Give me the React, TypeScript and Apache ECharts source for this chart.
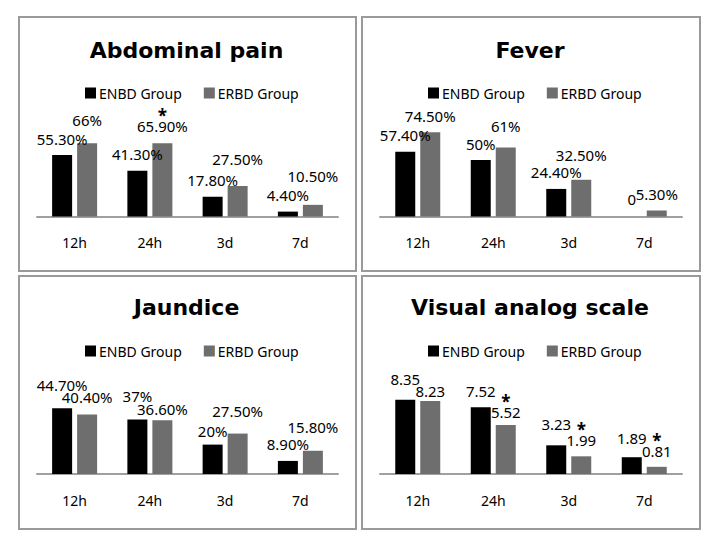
import React, { useEffect, useRef } from 'react';
import * as echarts from 'echarts';

// ---- data ----
const categories = ['12h', '24h', '3d', '7d'];
const seriesNames = ['ENBD Group', 'ERBD Group'];
const panelTitles = ['Abdominal pain', 'Fever', 'Jaundice', 'Visual analog scale'];

const abdominalENBD = [55.3, 41.3, 17.8, 4.4];
const abdominalERBD = [66, 65.9, 27.5, 10.5];
const feverENBD = [57.4, 50, 24.4, 0];
const feverERBD = [74.5, 61, 32.5, 5.3];
const jaundiceENBD = [44.7, 37, 20, 8.9];
const jaundiceERBD = [40.4, 36.6, 27.5, 15.8];
const vasENBD = [8.35, 7.52, 3.23, 1.89];
const vasERBD = [8.23, 5.52, 1.99, 0.81];

// significance markers (*) on ERBD values
const abdominalSig = [false, true, false, false];
const feverSig = [false, false, false, false];
const jaundiceSig = [false, false, false, false];
const vasSig = [false, true, true, true];

// ---- styles ----
const FONT = 'Noto Sans';
const TITLE_FONT = 'DejaVu Sans';
const FS = 14;
const VFS = 15;
const COLORS = ['#000000', '#6e6e6e'];

// label distances above bars (style only)
const labelDist = [
  [[9, 9, 9, 9], [16, 10, 19, 21]],
  [[9, 9, 9, 10], [9, 14, 17, 9]],
  [[16, 16, 6, 9], [10, 4, 15, 16]],
  [[13, 9, 14, 12], [2, 5, 9, 8]],
];

const layout = [
  { box: [19, 17, 337, 254], grid: { left: 37, top: 105.5, width: 301, height: 111 }, max: 100, tx: 186.5, ty: 50, lx: 85, ly: 86 },
  { box: [362, 17, 338, 254], grid: { left: 380, top: 103.5, width: 302, height: 113 }, max: 100, tx: 530, ty: 50, lx: 428, ly: 86 },
  { box: [19, 276, 337, 253], grid: { left: 37, top: 327, width: 301, height: 147 }, max: 100, tx: 186.5, ty: 307, lx: 85, ly: 344 },
  { box: [362, 276, 338, 253], grid: { left: 380, top: 385.2, width: 302, height: 88.8 }, max: 10, tx: 530, ty: 307, lx: 428, ly: 344 },
];

const pctFmt = (v: number) => (v === 0 ? '0' : Number.isInteger(v) ? `${v}%` : `${v.toFixed(2)}%`);
const numFmt = (v: number) => v.toFixed(2);

const panelData = [
  { enbd: abdominalENBD, erbd: abdominalERBD, sig: abdominalSig, fmt: pctFmt },
  { enbd: feverENBD, erbd: feverERBD, sig: feverSig, fmt: pctFmt },
  { enbd: jaundiceENBD, erbd: jaundiceERBD, sig: jaundiceSig, fmt: pctFmt },
  { enbd: vasENBD, erbd: vasERBD, sig: vasSig, fmt: numFmt },
];

function buildOption() {
  const grid: any[] = [];
  const xAxis: any[] = [];
  const yAxis: any[] = [];
  const series: any[] = [];
  const legend: any[] = [];
  const graphic: any[] = [];

  layout.forEach((L, p) => {
    const D = panelData[p];
    grid.push({ ...L.grid, containLabel: false });
    xAxis.push({
      type: 'category',
      gridIndex: p,
      data: categories,
      axisTick: { show: false },
      axisLine: { lineStyle: { color: '#a0a0a0', width: 2 } },
      axisLabel: { color: '#000', fontSize: FS, fontFamily: FONT, margin: 19 },
    });
    yAxis.push({ type: 'value', gridIndex: p, min: 0, max: L.max, show: false, splitLine: { show: false } });

    [D.enbd, D.erbd].forEach((vals, s) => {
      series.push({
        type: 'bar',
        name: seriesNames[s],
        xAxisIndex: p,
        yAxisIndex: p,
        barWidth: 20,
        barGap: '25%',
        itemStyle: { color: COLORS[s] },
        data: vals.map((v, i) => {
          const star = s === 1 && D.sig[i];
          return {
            value: v,
            label: {
              show: true,
              position: 'top',
              distance: labelDist[p][s][i],
              formatter: star ? `{s|*}\n{v|${D.fmt(v)}}` : `{v|${D.fmt(v)}}`,
              rich: {
                s: { fontSize: 17, fontWeight: 'bold', fontFamily: FONT, color: '#000', lineHeight: 6, align: 'center' },
                v: { fontSize: VFS, fontFamily: FONT, color: '#000', lineHeight: 15, align: 'center' },
              },
            },
          };
        }),
      });
    });

    legend.push({
      left: L.lx,
      top: L.ly,
      padding: 0,
      icon: 'rect',
      itemWidth: 11,
      itemHeight: 11,
      itemGap: 22,
      data: seriesNames,
      textStyle: { color: '#000', fontSize: FS, fontFamily: FONT, padding: [0, 0, 0, -2] },
      selectedMode: false,
    });

    graphic.push({
      type: 'rect',
      shape: { x: L.box[0], y: L.box[1], width: L.box[2], height: L.box[3] },
      style: { fill: 'none', stroke: '#9a9a9a', lineWidth: 2 },
      silent: true,
    });
    graphic.push({
      type: 'text',
      x: L.tx,
      y: L.ty,
      style: {
        text: panelTitles[p],
        fill: '#000',
        font: `bold 22px "${TITLE_FONT}"`,
        textAlign: 'center',
        textVerticalAlign: 'middle',
      },
      silent: true,
    });
  });

  return {
    animation: false,
    backgroundColor: '#fff',
    grid,
    xAxis,
    yAxis,
    series,
    legend,
    graphic,
  };
}

export default function App() {
  const ref = useRef<HTMLDivElement>(null);
  useEffect(() => {
    document.body.style.margin = '0';
    const chart = echarts.init(ref.current!, null, { renderer: 'svg' });
    chart.setOption(buildOption());
    return () => chart.dispose();
  }, []);
  return <div ref={ref} style={{ width: 720, height: 550, background: '#fff' }} />;
}
